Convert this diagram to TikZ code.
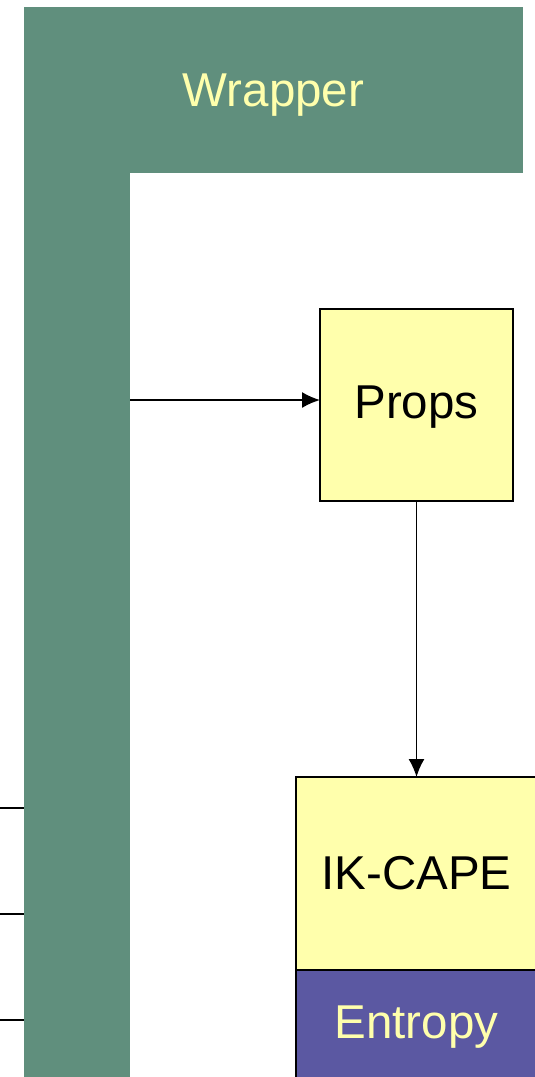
\documentclass[tikz,border=0pt]{standalone}
\usepackage{fontspec}
\setmainfont{Liberation Sans}
\usetikzlibrary{arrows.meta}

\definecolor{wrapgreen}{RGB}{96,143,125}
\definecolor{boxyellow}{RGB}{255,255,172}
\definecolor{entpurple}{RGB}{91,88,162}

\tikzset{
    block/.style={draw, line width=1.6pt, fill=boxyellow, inner sep=0pt, outer sep=0pt,
        font=\fontsize{47.5}{56}\selectfont},
    wrap/.style={fill=wrapgreen, inner sep=0pt, outer sep=0pt, anchor=north west},
    link/.style={line width=1.6pt, -{Latex[length=18pt,width=16pt]}}
}

\begin{document}
\begin{tikzpicture}[x=1pt,y=-1pt]
    \useasboundingbox (0,0) rectangle (535,1077);
    \clip (0,0) rectangle (535,1077);
    \node[wrap, minimum width=106pt, minimum height=1090pt] (bar) at (24,7) {};
    \node[wrap, minimum width=499pt, minimum height=166pt, text depth=0pt,
        text=boxyellow, font=\fontsize{47.5}{56}\selectfont] (wrapper) at (24,7) {Wrapper};
    \node[block, minimum width=193pt, minimum height=192pt, text depth=6pt] (props) at (416.5,405) {Props};
    \node[block, minimum width=241pt, minimum height=193pt, anchor=north] (ikcape) at (416.5,777) {IK-CAPE};
    \node[block, fill=entpurple, text=boxyellow, minimum width=241pt, minimum height=114pt,
        anchor=north] (entropy) at (ikcape.south) {Entropy};
    \coordinate (p1) at (320,400);
    \draw[link] (bar.east |- p1) -- (p1);
    \draw[link] (props.south) -- (ikcape.north);
    \foreach \y [count=\i] in {808,914,1020}{
        \coordinate (in\i) at (0,\y);
        \draw[line width=1.6pt] (in\i) -- (in\i -| bar.west);
    }
\end{tikzpicture}
\end{document}
